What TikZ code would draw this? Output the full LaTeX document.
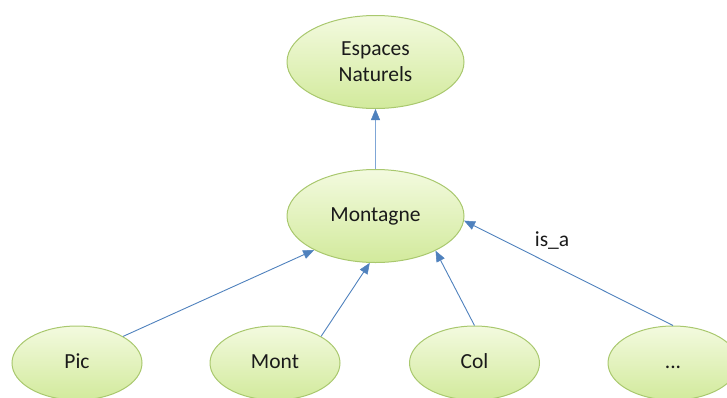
\documentclass[tikz,border=0pt]{standalone}
\usepackage{fontspec}
\setmainfont{Carlito}
\usetikzlibrary{shapes.geometric,arrows.meta}
\definecolor{edgegreen}{HTML}{A9C86E}
\definecolor{filltop}{HTML}{F3FADF}
\definecolor{fillbot}{HTML}{D2EA9C}
\definecolor{arrowblue}{HTML}{4F81BD}
\definecolor{lightblue}{HTML}{7FA6D6}
\definecolor{textgray}{HTML}{1A1A1A}
\tikzset{
  concept/.style={ellipse, draw=edgegreen, line width=1pt, top color=filltop, bottom color=fillbot,
    inner sep=0pt, align=center, font=\fontsize{21.5}{26}\selectfont, text=textgray},
  bigconcept/.style={concept, minimum width=177pt, minimum height=93pt},
  smallconcept/.style={concept, minimum width=130pt, minimum height=74pt, text height=13pt, text depth=3pt},
  isa/.style={draw=arrowblue, line width=0.9pt, -{Triangle[length=11pt,width=9pt,color=arrowblue,line width=0.5pt]}},
  isaup/.style={isa, draw=lightblue, line width=1.5pt},
}
\begin{document}
\begin{tikzpicture}[x=1pt,y=-1pt]
\useasboundingbox (0,0) rectangle (727,397);
\clip (0,0) rectangle (727,397);
\node[bigconcept] (esp) at (375.5,62) {Espaces\\Naturels};
\node[bigconcept] (mon) at (375.5,216) {Montagne};
\node[smallconcept] (pic) at (77,363) {Pic};
\node[smallconcept] (mont) at (275,363) {Mont};
\node[smallconcept] (col) at (474.5,363) {Col};
\node[smallconcept] (etc) at (673,363) {...};
\draw[isaup] (mon.north) -- (esp.south);
\draw[isa] (pic.30) -- (mon.209);
\draw[isa] (mont.30) -- (mon.263);
\draw[isa] (col.north) -- (mon.330);
\draw[isa] (etc.north) -- (mon.357);
\node[font=\fontsize{21.5}{26}\selectfont, text=textgray] (lbl) at (552,241) {is\_a};
\end{tikzpicture}
\end{document}
